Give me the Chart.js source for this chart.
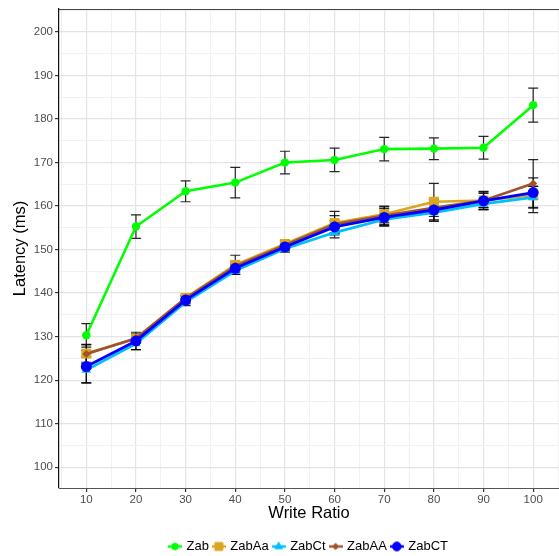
<!DOCTYPE html>
<html>
<head>
<meta charset="utf-8">
<script src="https://cdn.jsdelivr.net/npm/chart.js@4.4.0/dist/chart.umd.min.js"></script>
<style>
  html, body { margin: 0; padding: 0; background: #fff; overflow: hidden; }
  #wrap { width: 559px; height: 556px; }
  canvas { display: block; }
</style>
</head>
<body>
<div id="wrap"><canvas id="chart" width="559" height="556"></canvas></div>
<script>
// Données
const writeRatios = [10, 20, 30, 40, 50, 60, 70, 80, 90, 100];
const seriesNames = ['Zab', 'ZabAa', 'ZabCt', 'ZabAA', 'ZabCT'];

const zab   = [130.3, 155.3, 163.4, 165.4, 170.0, 170.6, 173.1, 173.2, 173.4, 183.2];
const zabAa = [126.1, 129.5, 138.9, 146.5, 151.3, 156.1, 158.1, 161.0, 161.3, 162.5];
const zabCt = [122.3, 128.4, 137.9, 145.1, 150.2, 153.9, 156.9, 158.5, 160.5, 162.0];
const zabAA = [126.0, 129.6, 138.8, 146.2, 151.0, 155.8, 157.8, 159.6, 161.3, 165.2];
const zabCT = [123.1, 129.0, 138.4, 145.7, 150.6, 155.2, 157.4, 159.1, 161.2, 163.1];

// demi-largeur des barres d'erreur
const zabErr   = [2.7, 2.7, 2.4, 3.5, 2.6, 2.7, 2.7, 2.5, 2.6, 3.9];
const zabAaErr = [2.0, 1.0, 0.6, 2.2, 0.8, 2.7, 1.9, 4.2, 1.6, 4.0];
const zabCtErr = [3.0, 1.4, 0.8, 0.8, 0.8, 1.2, 1.4, 2.0, 0.9, 2.5];
const zabAAErr = [2.2, 1.0, 0.7, 0.9, 0.9, 2.0, 2.0, 2.0, 2.1, 5.5];
const zabCTErr = [3.7, 2.0, 0.8, 0.9, 0.9, 1.4, 2.0, 2.3, 2.0, 1.5];

const xTicks = [5, 10, 15, 20, 25, 30, 35, 40, 45, 50, 55, 60, 65, 70, 75, 80, 85, 90, 95, 100, 105];
const yTicks = [100, 105, 110, 115, 120, 125, 130, 135, 140, 145, 150, 155, 160, 165, 170, 175, 180, 185, 190, 195, 200, 205];

const colors = {
    zab: '#00ff00',
    zabAa: '#daa520',
    zabCt: '#00bfff',
    zabAA: '#a0522d',
    zabCT: '#0000ff',
    gridMajor: '#e4e4e4',
    gridMinor: '#f1f1f1',
    tick: '#4d4d4d'
};

const styles = [
    { color: colors.zab,   shape: 'circle',   radius: 4.2, width: 2.6, values: zab,   err: zabErr },
    { color: colors.zabAa, shape: 'rect',     radius: 7,   width: 2.6, values: zabAa, err: zabAaErr },
    { color: colors.zabCt, shape: 'triangle', radius: 5.5, width: 2.6, values: zabCt, err: zabCtErr },
    { color: colors.zabAA, shape: 'rectRot',  radius: 4,   width: 2.6, values: zabAA, err: zabAAErr },
    { color: colors.zabCT, shape: 'circle',   radius: 5.5, width: 2.8, values: zabCT, err: zabCTErr }
];

function makeLegendIcon(s) {
    const c = document.createElement('canvas');
    c.width = 14;
    c.height = 14;
    const ctx = c.getContext('2d');
    ctx.strokeStyle = s.color;
    ctx.lineWidth = 2.4;
    ctx.beginPath();
    ctx.moveTo(0, 7);
    ctx.lineTo(14, 7);
    ctx.stroke();
    ctx.fillStyle = s.color;
    ctx.lineWidth = 1;
    Chart.helpers.drawPoint(ctx, { pointStyle: s.shape, radius: s.radius * 0.8, borderWidth: 1, rotation: 0 }, 7, 7);
    return c;
}

const isMajor = v => v % 10 === 0;

const errorBars = {
    id: 'errorBars',
    beforeDatasetsDraw(chart) {
        const { ctx, scales: { x, y } } = chart;
        ctx.save();
        ctx.strokeStyle = 'rgba(0,0,0,0.85)';
        ctx.lineWidth = 1.2;
        styles.forEach(s => {
            writeRatios.forEach((r, i) => {
                const px = x.getPixelForValue(r);
                const top = y.getPixelForValue(s.values[i] + s.err[i]);
                const bot = y.getPixelForValue(s.values[i] - s.err[i]);
                ctx.beginPath();
                ctx.moveTo(px, top); ctx.lineTo(px, bot);
                ctx.moveTo(px - 5, top); ctx.lineTo(px + 5, top);
                ctx.moveTo(px - 5, bot); ctx.lineTo(px + 5, bot);
                ctx.stroke();
            });
        });
        ctx.restore();
    }
};

const panelBorder = {
    id: 'panelBorder',
    afterDraw(chart) {
        const { ctx, chartArea } = chart;
        ctx.save();
        ctx.strokeStyle = '#444';
        ctx.lineWidth = 1;
        ctx.beginPath();
        ctx.moveTo(chartArea.left, chartArea.top + 0.5);
        ctx.lineTo(chartArea.right, chartArea.top + 0.5);
        ctx.stroke();
        ctx.restore();
    }
};

const datasets = styles.map((s, i) => ({
    label: seriesNames[i],
    data: writeRatios.map((r, j) => ({ x: r, y: s.values[j] })),
    borderColor: s.color,
    backgroundColor: s.color,
    borderWidth: s.width,
    pointStyle: s.shape,
    pointRadius: s.radius,
    pointBorderWidth: 0,
    pointBackgroundColor: s.color,
    tension: 0,
    order: styles.length - i
}));

new Chart(document.getElementById('chart'), {
    type: 'line',
    data: { datasets },
    plugins: [errorBars, panelBorder],
    options: {
        responsive: false,
        animation: false,
        layout: { autoPadding: false, padding: { top: 9, right: 0, left: 0, bottom: -7 } },
        plugins: {
            tooltip: { enabled: false },
            legend: {
                position: 'bottom',
                fullSize: false,
                labels: {
                    usePointStyle: true,
                    pointStyleWidth: 10,
                    padding: 5,
                    color: '#000',
                    font: { family: 'Liberation Sans, Arial, sans-serif', size: 13 },
                    generateLabels(chart) {
                        return chart.data.datasets.map((d, i) => ({
                            text: d.label,
                            fillStyle: d.borderColor,
                            strokeStyle: d.borderColor,
                            lineWidth: 0,
                            pointStyle: makeLegendIcon(styles[i]),
                            hidden: false,
                            datasetIndex: i,
                            fontColor: '#000'
                        }));
                    }
                }
            }
        },
        scales: {
            x: {
                type: 'linear',
                min: 4.5,
                max: 105.2,
                afterBuildTicks(axis) { axis.ticks = xTicks.map(v => ({ value: v })); },
                afterFit(axis) {
                    axis.height = 47;
                    axis.paddingLeft = 0;
                    axis.paddingRight = 0;
                },
                border: { color: '#555', width: 1 },
                grid: {
                    color: ctx => isMajor(ctx.tick.value) ? colors.gridMajor : colors.gridMinor,
                    lineWidth: ctx => isMajor(ctx.tick.value) ? 1.2 : 1,
                    tickColor: ctx => isMajor(ctx.tick.value) ? '#333' : 'rgba(0,0,0,0)',
                    tickLength: 4,
                    drawTicks: true
                },
                ticks: {
                    autoSkip: false,
                    maxRotation: 0,
                    padding: 1,
                    color: colors.tick,
                    font: { family: 'Liberation Sans, Arial, sans-serif', size: 11.5 },
                    callback: v => (isMajor(v) && v >= 10 && v <= 100) ? String(v) : ''
                },
                title: {
                    display: true,
                    text: 'Write Ratio',
                    color: '#000',
                    font: { family: 'Liberation Sans, Arial, sans-serif', size: 16.5 },
                    padding: { top: 0, bottom: 12 }
                }
            },
            y: {
                type: 'linear',
                min: 95.2,
                max: 205.3,
                afterBuildTicks(axis) { axis.ticks = yTicks.map(v => ({ value: v })); },
                afterFit(axis) {
                    axis.width = 59;
                    axis.paddingTop = 0;
                    axis.paddingBottom = 0;
                },
                border: { color: '#111', width: 1.2 },
                grid: {
                    color: ctx => isMajor(ctx.tick.value) ? colors.gridMajor : colors.gridMinor,
                    lineWidth: ctx => isMajor(ctx.tick.value) ? 1.2 : 1,
                    tickColor: ctx => isMajor(ctx.tick.value) ? '#333' : 'rgba(0,0,0,0)',
                    tickLength: 4,
                    drawTicks: true
                },
                ticks: {
                    autoSkip: false,
                    padding: 2,
                    color: colors.tick,
                    font: { family: 'Liberation Sans, Arial, sans-serif', size: 11.5 },
                    callback: v => isMajor(v) ? String(v) : ''
                },
                title: {
                    display: true,
                    text: 'Latency (ms)',
                    color: '#000',
                    font: { family: 'Liberation Sans, Arial, sans-serif', size: 16.5 },
                    padding: { top: 11, bottom: 0 }
                }
            }
        }
    }
});
</script>
</body>
</html>
